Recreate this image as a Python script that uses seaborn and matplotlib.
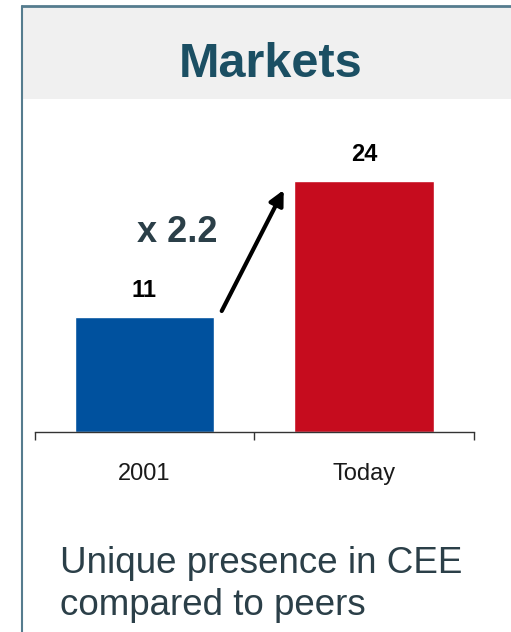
import matplotlib
matplotlib.use("Agg")
import matplotlib.pyplot as plt
from matplotlib.patches import Rectangle
from matplotlib.lines import Line2D
import seaborn as sns

# data
categories = ["2001", "Today"]
values = [11, 24]
bar_colors = ["#00519E", "#C60C1E"]
growth_label = "x 2.2"
title = "Markets"
caption = "Unique presence in CEE\ncompared to peers"

sns.set_style("white")
plt.rcParams["font.family"] = ["Liberation Sans", "DejaVu Sans"]

W, H = 511, 632
fig = plt.figure(figsize=(W / 100, H / 100), dpi=100)

# header band + frame lines
fig.patches.append(Rectangle((23 / W, 1 - 99 / H), 1, 93 / H, transform=fig.transFigure,
                             facecolor="#F0F0F0", edgecolor="none", zorder=0))
fig.lines.append(Line2D([22 / W, 1], [1 - 6 / H, 1 - 6 / H], transform=fig.transFigure,
                        color="#557C8E", lw=2))
fig.lines.append(Line2D([22 / W, 22 / W], [0, 1 - 6 / H], transform=fig.transFigure,
                        color="#557C8E", lw=1.5))

fig.text(271 / W, 1 - 77 / H, title, ha="center", va="baseline", fontsize=35,
         fontweight="bold", color="#1B4F63")

ax = fig.add_axes([34.5 / W, 1 - 432 / H, 439.5 / W, 292.6 / H])
sns.barplot(x=categories, y=values, hue=categories, palette=bar_colors, width=0.635,
            legend=False, saturation=1, ax=ax)
ax.set_xlim(-0.5, 1.5)
ax.set_ylim(0, 28)

for i, v in enumerate(values):
    ax.annotate(str(v), (i, v), xytext=(0, 14.4), textcoords="offset points",
                ha="center", va="baseline", fontsize=17, fontweight="bold", color="black")

# growth arrow
ax.annotate("", xy=(0.634, 23.16), xytext=(0.352, 11.58),
            arrowprops=dict(arrowstyle="-|>", color="black", lw=3, mutation_scale=22,
                            shrinkA=0, shrinkB=0))
ax.text(0.15, 19.1, growth_label, ha="center", va="center", fontsize=26,
        fontweight="bold", color="#2B3F48")

sns.despine(ax=ax, left=True)
ax.spines["bottom"].set_color("#333333")
ax.spines["bottom"].set_linewidth(1)
ax.set_yticks([])
ax.set_xticks([-0.5, 0.5, 1.5])
ax.set_xticklabels([])
ax.tick_params(axis="x", which="major", bottom=True, length=6, width=1, color="#333333",
               direction="out")
ax.set_xticks([0, 1], minor=True)
ax.set_xticklabels(categories, minor=True)
ax.tick_params(axis="x", which="minor", length=0, pad=22, labelsize=17, labelcolor="#1A1A1A")
ax.set_xlabel("")
ax.set_ylabel("")
ax.patch.set_alpha(0)

# caption: va="baseline" anchors the last line
fig.text(60 / W, 1 - 615 / H, caption, ha="left", va="baseline", fontsize=26.5,
         color="#2B3F48", linespacing=1.25)

fig.savefig("out.png", dpi=100)
